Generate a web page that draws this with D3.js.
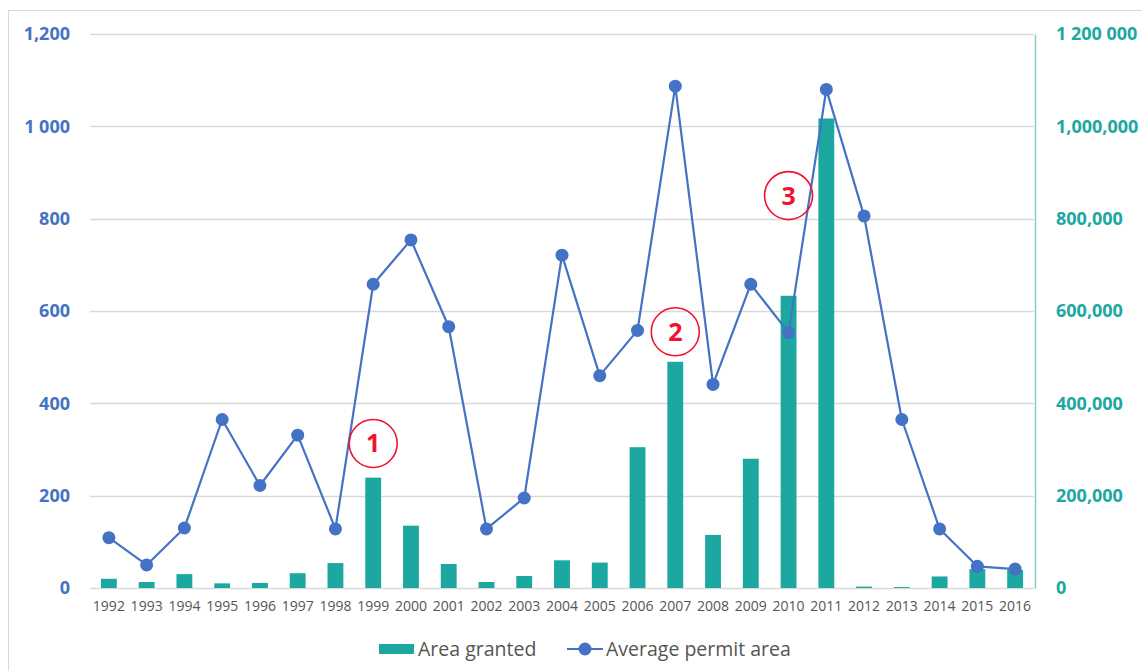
<!DOCTYPE html>
<html>
<head>
<meta charset="utf-8">
<script src="https://cdn.jsdelivr.net/npm/d3@7/dist/d3.min.js"></script>
<style>
  html, body { margin: 0; padding: 0; background: #ffffff; }
  svg { display: block; }
</style>
</head>
<body>
<svg id="chart" width="1142" height="671"></svg>
<script>
// Years on the category axis
const years = ["1992","1993","1994","1995","1996","1997","1998","1999","2000","2001","2002","2003","2004",
               "2005","2006","2007","2008","2009","2010","2011","2012","2013","2014","2015","2016"];

// Area granted (right axis)
const areaGranted = [20000, 13000, 30000, 10000, 11000, 32000, 54000, 239000, 135000, 52000, 13000, 26000, 60000,
                     55000, 305000, 490000, 115000, 280000, 633000, 1017000, 3000, 2000, 25000, 41000, 39000];

// Average permit area (left axis)
const avgPermitArea = [109, 50, 130, 365, 222, 331, 128, 658, 754, 566, 128, 195, 721,
                       460, 558, 1087, 441, 658, 553, 1080, 806, 365, 128, 47, 41];

// Axis ticks and their printed labels
const leftTicks = [0, 200, 400, 600, 800, 1000, 1200];
const leftTickLabels = ["0", "200", "400", "600", "800", "1 000", "1,200"];
const rightTicks = [0, 200000, 400000, 600000, 800000, 1000000, 1200000];
const rightTickLabels = ["0", "200,000", "400,000", "600,000", "800,000", "1,000,000", "1 200 000"];

// Numbered call-outs: year they sit at and the left-axis level of their centre
const calloutLabels = ["1", "2", "3"];
const calloutYears = ["1999", "2007", "2010"];
const calloutLevels = [313, 555, 850];

const seriesNames = ["Area granted", "Average permit area"];

const colBar = "#1ca8a1";
const colLine = "#4472c4";
const colGrid = "#d9d9d9";
const colText = "#555555";
const colCallout = "#f2122f";

const svg = d3.select("#chart");

// outer frame
svg.append("rect")
  .attr("x", 8.5).attr("y", 10.5)
  .attr("width", 1145).attr("height", 670)
  .attr("fill", "none").attr("stroke", "#d9d9d9").attr("stroke-width", 1);

const plot = { left: 90, right: 1034, top: 34, bottom: 588 };

const x = d3.scaleBand()
  .domain(years)
  .range([plot.left, plot.right])
  .paddingInner(0.58)
  .paddingOuter(0.29);

const yL = d3.scaleLinear().domain([0, 1200]).range([plot.bottom, plot.top]);
const yR = d3.scaleLinear().domain([0, 1200000]).range([plot.bottom, plot.top]);

const cx = d => x(d) + x.bandwidth() / 2;

// horizontal gridlines
svg.append("g")
  .selectAll("line")
  .data(leftTicks)
  .join("line")
  .attr("x1", plot.left).attr("x2", plot.right)
  .attr("y1", d => Math.round(yL(d)) + 0.5).attr("y2", d => Math.round(yL(d)) + 0.5)
  .attr("stroke", colGrid).attr("stroke-width", 1.3);

// left axis
const axL = svg.append("g")
  .attr("transform", `translate(${plot.left},0)`)
  .call(d3.axisLeft(yL).tickValues(leftTicks).tickSize(0).tickPadding(20)
    .tickFormat((d, i) => leftTickLabels[i]));
axL.select(".domain").remove();
axL.selectAll("text")
  .attr("fill", colLine)
  .style("font-family", "'Open Sans', sans-serif")
  .style("font-weight", "700")
  .style("font-size", "18px");

// right axis
const axR = svg.append("g")
  .attr("transform", `translate(${plot.right + 1},0)`)
  .call(d3.axisRight(yR).tickValues(rightTicks).tickSize(0).tickPadding(21)
    .tickFormat((d, i) => rightTickLabels[i]));
axR.select(".domain")
  .attr("stroke", "#7fd0cc").attr("stroke-width", 1.5);
axR.selectAll("text")
  .attr("fill", colBar)
  .style("font-family", "'Open Sans', sans-serif")
  .style("font-weight", "700")
  .style("font-size", "18px");

// bottom axis
const axB = svg.append("g")
  .attr("transform", `translate(0,${plot.bottom})`)
  .call(d3.axisBottom(x).tickSize(0).tickPadding(13));
axB.select(".domain").remove();
axB.selectAll("text")
  .attr("fill", colText)
  .style("font-family", "'Open Sans', sans-serif")
  .style("font-size", "14px");

// bars
svg.append("g")
  .selectAll("rect")
  .data(years)
  .join("rect")
  .attr("x", d => x(d))
  .attr("width", x.bandwidth())
  .attr("y", (d, i) => yR(areaGranted[i]))
  .attr("height", (d, i) => plot.bottom - yR(areaGranted[i]))
  .attr("fill", colBar);

// line
const line = d3.line()
  .x((d, i) => cx(years[i]))
  .y(d => yL(d));

svg.append("path")
  .datum(avgPermitArea)
  .attr("d", line)
  .attr("fill", "none")
  .attr("stroke", colLine)
  .attr("stroke-width", 2.2)
  .attr("stroke-linejoin", "round");

svg.append("g")
  .selectAll("circle")
  .data(avgPermitArea)
  .join("circle")
  .attr("cx", (d, i) => cx(years[i]))
  .attr("cy", d => yL(d))
  .attr("r", 6.5)
  .attr("fill", colLine);

// numbered call-outs
const callouts = svg.append("g")
  .selectAll("g")
  .data(calloutLabels)
  .join("g")
  .attr("transform", (d, i) => `translate(${cx(calloutYears[i])},${yL(calloutLevels[i])})`);
callouts.append("circle")
  .attr("r", 24)
  .attr("fill", "none")
  .attr("stroke", colCallout)
  .attr("stroke-width", 1.6);
callouts.append("text")
  .attr("text-anchor", "middle")
  .attr("dy", "0.36em")
  .attr("fill", colCallout)
  .style("font-family", "'Open Sans', sans-serif")
  .style("font-weight", "700")
  .style("font-size", "25px")
  .text(d => d);

// legend
const legend = svg.append("g").attr("transform", "translate(0,649)");
legend.append("rect")
  .attr("x", 379).attr("y", -5).attr("width", 35).attr("height", 10)
  .attr("fill", colBar);
legend.append("text")
  .attr("x", 418).attr("y", 0).attr("dy", "0.35em")
  .attr("fill", colText)
  .style("font-family", "'Open Sans', sans-serif")
  .style("font-size", "19.5px")
  .text(seriesNames[0]);
legend.append("line")
  .attr("x1", 567).attr("x2", 603).attr("y1", 0).attr("y2", 0)
  .attr("stroke", colLine).attr("stroke-width", 2.2);
legend.append("circle")
  .attr("cx", 585).attr("cy", 0).attr("r", 6.5).attr("fill", colLine);
legend.append("text")
  .attr("x", 606).attr("y", 0).attr("dy", "0.35em")
  .attr("fill", colText)
  .style("font-family", "'Open Sans', sans-serif")
  .style("font-size", "19.5px")
  .text(seriesNames[1]);
</script>
</body>
</html>
